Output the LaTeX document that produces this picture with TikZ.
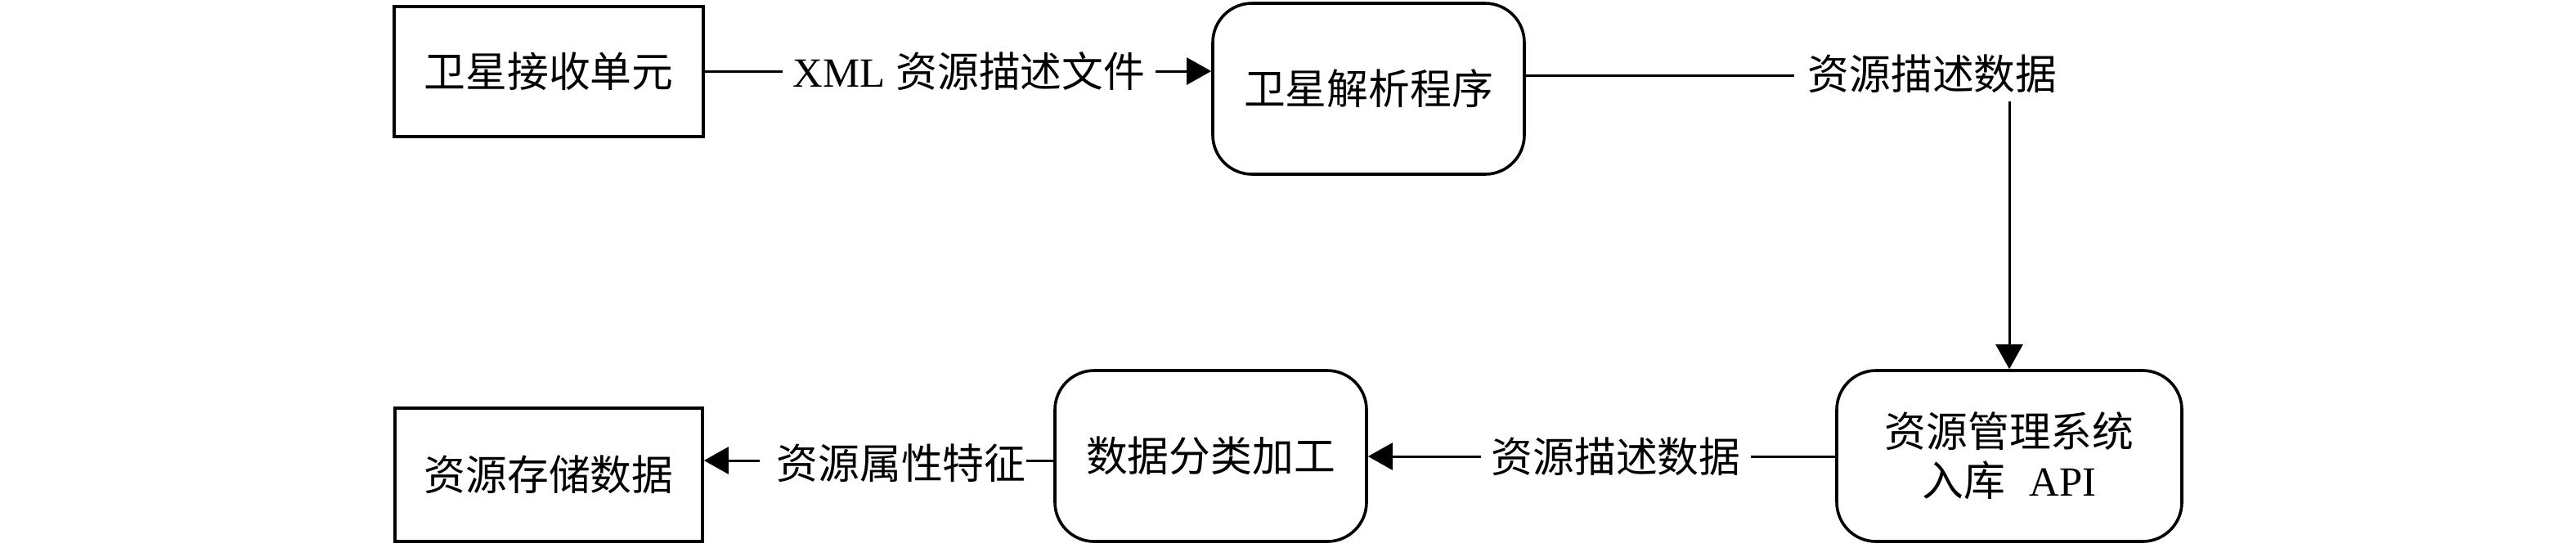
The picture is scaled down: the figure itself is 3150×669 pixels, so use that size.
\documentclass[tikz,border=0pt]{standalone}
\usepackage{fontspec}
\setmainfont{Liberation Serif}
\newfontfamily\cjk{Noto Sans CJK SC}
\usetikzlibrary{arrows.meta}
\begin{document}
\begin{tikzpicture}[x=0.25pt,y=-0.25pt,
  every node/.style={font=\fontsize{12.7pt}{15.5pt}\selectfont},
  sqbox/.style={draw,line width=0.9pt,inner sep=0pt,align=center},
  rdbox/.style={draw,line width=0.9pt,rounded corners=12pt,inner sep=0pt,align=center},
  lbl/.style={inner ysep=2.5pt,inner xsep=3pt},
  conn/.style={line width=0.75pt},
  arr/.style={conn,-{Triangle[length=7.5pt,width=8.2pt]}}]
\useasboundingbox (0,0) rectangle (3150,669);
% boxes
\node[sqbox,minimum width=94.5pt,minimum height=39.75pt] (recv) at (671,87.5) {\cjk 卫星接收单元};
\node[rdbox,minimum width=95.25pt,minimum height=52.25pt] (parse) at (1673.5,108.5) {\cjk 卫星解析程序};
\node[rdbox,minimum width=105.5pt,minimum height=52.25pt] (api) at (2457,557.5) {{\cjk 资源管理系统}\\[-0.5pt]{\cjk 入库}\hspace{7.5pt}API};
\node[rdbox,minimum width=95.25pt,minimum height=52.25pt] (proc) at (1480.5,557.5) {\cjk 数据分类加工};
\node[sqbox,minimum width=94pt,minimum height=40.75pt] (store) at (671,580.5) {\cjk 资源存储数据};
% labels
\node[lbl] (la) at (1185,87) {XML {\cjk 资源描述文件}};
\node[lbl,inner xsep=4pt] (lb) at (2363,90) {\cjk 资源描述数据};
\node[lbl] (lc) at (1976,558) {\cjk 资源描述数据};
\node[lbl,inner xsep=0pt] (ld) at (1102,566) {\cjk 资源属性特征};
% connectors
\draw[conn] (recv.east |- la.west) -- (la.west);
\draw[arr] (la.east) -- (la.east -| parse.west);
\draw[conn] ([yshift=-0.5pt]parse.east |- lb.west) -- ([yshift=-0.5pt]lb.west);
\draw[arr] (lb.south -| api.north) -- (api.north);
\draw[conn] (api.west |- lc.east) -- (lc.east);
\draw[arr] (lc.west) -- (lc.west -| proc.east);
\draw[conn] ([yshift=0.75pt]proc.west |- ld.east) -- ([yshift=0.75pt]ld.east);
\draw[arr] ([xshift=-5pt,yshift=0.75pt]ld.west) -- ([yshift=0.75pt]ld.west -| store.east);
\end{tikzpicture}
\end{document}
